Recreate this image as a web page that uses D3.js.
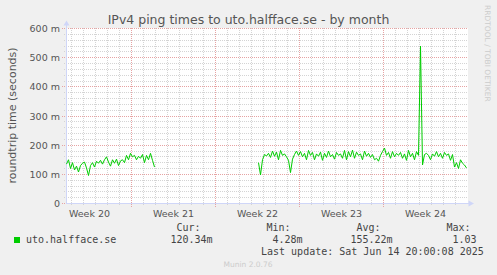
<!DOCTYPE html>
<html>
<head>
<meta charset="utf-8">
<script src="https://cdn.jsdelivr.net/npm/d3@7"></script>
<style>
  html, body { margin: 0; padding: 0; background: #f0f0f0; }
  svg { display: block; font-family: "DejaVu Sans", sans-serif; }
  .mono { font-family: "DejaVu Sans Mono", monospace; }
</style>
</head>
<body>
<div id="chart"></div>
<script>
// chart data (values in milliseconds, one sample every 4 hours)
const title = "IPv4 ping times to uto.halfface.se - by month";
const yLabel = "roundtrip time (seconds)";
const yTicks = [0, 100, 200, 300, 400, 500, 600];
const yTickLabels = ["0", "100 m", "200 m", "300 m", "400 m", "500 m", "600 m"];
const viewStart = "2025-05-13T14:00:00Z";
const viewEnd = "2025-06-15T22:00:00Z";
const stepHours = 4;

const seg1Start = "2025-05-13T14:00:00Z";
const seg1Values = [135, 150, 120, 140, 115, 128, 108, 130, 138, 142, 122, 96,
  130, 140, 125, 145, 138, 148, 135, 150, 160, 142, 128, 150, 138, 152, 130, 146,
  150, 140, 165, 150, 172, 160, 165, 150, 162, 155, 168, 140, 165, 150, 172, 148, 125];

const seg2Start = "2025-05-29T14:00:00Z";
const seg2Values = [140, 98, 150, 168, 163, 172, 158, 180, 162, 176, 150, 182,
  165, 170, 160, 148, 106, 152, 168, 180, 165, 178, 160, 172, 150, 182, 165, 175,
  150, 170, 162, 176, 148, 172, 158, 180, 160, 168, 152, 175, 165, 170, 155, 182,
  150, 178, 160, 183, 155, 176, 165, 170, 150, 180, 162, 172, 158, 168, 150, 155,
  145, 165, 178, 190, 165, 175, 155, 178, 160, 172, 165, 175, 155, 170, 148, 182,
  160, 172, 150, 178, 165, 540, 132, 168, 172, 165, 150, 170, 162, 178, 160, 172,
  155, 175, 165, 170, 148, 168, 125, 140, 120, 150, 138, 132, 122];

const legendHost = "uto.halfface.se";
const legendHeaders = ["Cur:", "Min:", "Avg:", "Max:"];
const legendValues = ["120.34m", "4.28m", "155.22m", "1.03"];
const lastUpdate = "Last update: Sat Jun 14 20:00:08 2025";
const footer = "Munin 2.0.76";
const watermark = "RRDTOOL / TOBI OETIKER";

const W = 497, H = 275;
const svg = d3.select("#chart").append("svg")
  .attr("width", W).attr("height", H);

svg.append("rect").attr("width", W).attr("height", H).attr("fill", "#f0f0f0");

const x = d3.scaleUtc()
  .domain([new Date(viewStart), new Date(viewEnd)])
  .range([66.5, 466.5]);
const y = d3.scaleLinear().domain([0, 600]).range([203.5, 28.5]);

// canvas
svg.append("rect")
  .attr("x", 67).attr("y", 28).attr("width", 401).attr("height", 175)
  .attr("fill", "#ffffff");

const grid = svg.append("g").attr("shape-rendering", "crispEdges");

// minor grid
const minorY = d3.range(0, 601, 20).filter(v => v % 100 !== 0);
grid.selectAll(".hmin").data(minorY).enter().append("line")
  .attr("x1", 64).attr("x2", 468)
  .attr("y1", d => Math.floor(y(d)) + 0.5).attr("y2", d => Math.floor(y(d)) + 0.5)
  .attr("stroke", "#d4d4d4").attr("stroke-dasharray", "1,1");

const t0 = new Date(viewStart), t1 = new Date(viewEnd);
const days = d3.utcDay.range(t0, t1).filter(d => d.getUTCDay() !== 1);
grid.selectAll(".vmin").data(days).enter().append("line")
  .attr("x1", d => Math.floor(x(d)) + 0.5).attr("x2", d => Math.floor(x(d)) + 0.5)
  .attr("y1", 28).attr("y2", 206)
  .attr("stroke", "#d4d4d4").attr("stroke-dasharray", "1,1");

// major grid
grid.selectAll(".hmaj").data(yTicks).enter().append("line")
  .attr("x1", 62).attr("x2", 468)
  .attr("y1", d => Math.floor(y(d)) + 0.5).attr("y2", d => Math.floor(y(d)) + 0.5)
  .attr("stroke", "#e6a3a3").attr("stroke-dasharray", "1,1");

const weeks = d3.utcMonday.range(t0, t1);
grid.selectAll(".vmaj").data(weeks).enter().append("line")
  .attr("x1", d => Math.floor(x(d)) + 0.5).attr("x2", d => Math.floor(x(d)) + 0.5)
  .attr("y1", 28).attr("y2", 207)
  .attr("stroke", "#e6a3a3").attr("stroke-dasharray", "1,1");

// axes
const axisCol = "#cfd6f8";
svg.append("line").attr("x1", 66.5).attr("x2", 66.5).attr("y1", 204).attr("y2", 24)
  .attr("stroke", axisCol);
svg.append("polygon").attr("points", "63.5,25.5 69.5,25.5 66.5,20.5").attr("fill", axisCol);
svg.append("line").attr("x1", 66).attr("x2", 470).attr("y1", 203.5).attr("y2", 203.5)
  .attr("stroke", axisCol);
svg.append("polygon").attr("points", "468.5,200.5 468.5,206.5 474,203.5").attr("fill", axisCol);

// tick labels
svg.selectAll(".ylab").data(yTicks).enter().append("text")
  .attr("x", 60).attr("y", d => y(d) + 3.5)
  .attr("text-anchor", "end").attr("font-size", "9.5px").attr("fill", "#555")
  .text((d, i) => yTickLabels[i]);

const weekFmt = d3.utcFormat("%V");
const labelWeeks = d3.utcMonday.range(d3.utcMonday.floor(t0), t1)
  .filter(d => {
    const c = new Date(+d + 3.5 * 864e5);
    return c >= t0 && c <= t1;
  });
svg.selectAll(".xlab").data(labelWeeks).enter().append("text")
  .attr("x", d => x(new Date(+d + 3.5 * 864e5)))
  .attr("y", 216.5)
  .attr("text-anchor", "middle").attr("font-size", "9.5px").attr("fill", "#555")
  .text(d => "Week " + (+weekFmt(d)));

// data
const line = d3.line().x(d => x(d.t)).y(d => y(d.v));
function toPoints(start, vals) {
  const s = new Date(start);
  return vals.map((v, i) => ({ t: d3.utcHour.offset(s, i * stepHours), v }));
}
[toPoints(seg1Start, seg1Values), toPoints(seg2Start, seg2Values)].forEach(pts => {
  svg.append("path").datum(pts)
    .attr("d", line)
    .attr("fill", "none").attr("stroke", "#00cc00").attr("stroke-width", 1);
});

// title and labels
svg.append("text").attr("x", 248.5).attr("y", 23.5)
  .attr("text-anchor", "middle").attr("font-size", "12.5px").attr("fill", "#555")
  .text(title);

svg.append("text")
  .attr("transform", "translate(15.5,115.5) rotate(-90)")
  .attr("text-anchor", "middle").attr("font-size", "11px").attr("fill", "#555")
  .text(yLabel);

svg.append("text")
  .attr("transform", "translate(485,5) rotate(90)")
  .attr("font-size", "7.5px").attr("fill", "#cccccc")
  .text(watermark);

// legend
svg.append("rect").attr("x", 14).attr("y", 237).attr("width", 6).attr("height", 6)
  .attr("fill", "#00cc00");
const leg = svg.append("g").attr("class", "mono").attr("font-size", "10px").attr("fill", "#444");
leg.append("text").attr("x", 26).attr("y", 243).text(legendHost);
const headerX = [176.5, 266.5, 356.5, 446.5];
const valueX = [170.5, 272.5, 350.5, 452.5];
leg.selectAll(".lh").data(legendHeaders).enter().append("text")
  .attr("x", (d, i) => headerX[i]).attr("y", 231).text(d => d);
leg.selectAll(".lv").data(legendValues).enter().append("text")
  .attr("x", (d, i) => valueX[i]).attr("y", 243).text(d => d);
leg.append("text").attr("x", 261).attr("y", 255).text(lastUpdate);

svg.append("text").attr("x", 248).attr("y", 267)
  .attr("text-anchor", "middle").attr("font-size", "7.5px").attr("fill", "#cccccc")
  .text(footer);
</script>
</body>
</html>
